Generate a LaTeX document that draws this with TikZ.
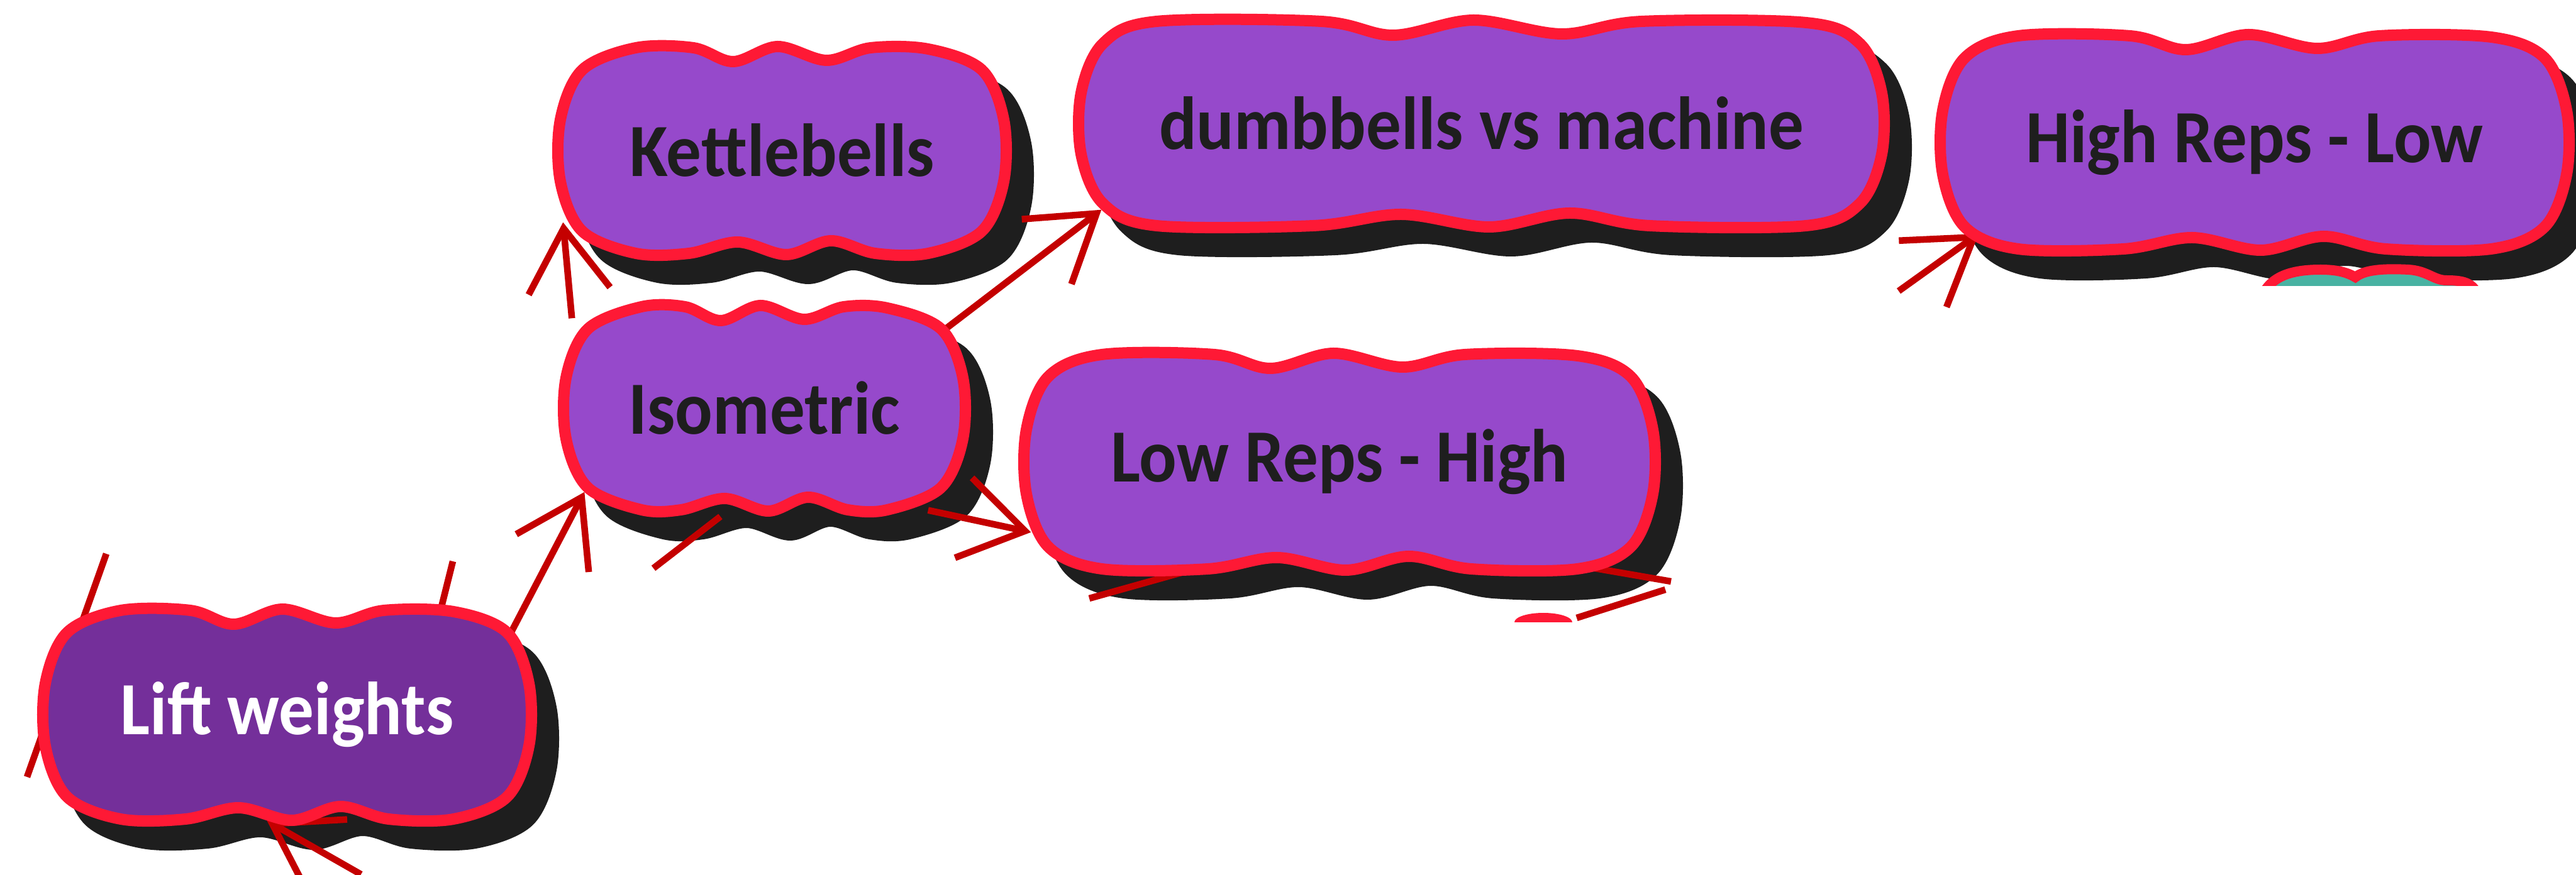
\documentclass[tikz,border=0pt]{standalone}
\usepackage{fontspec}
\setmainfont{Carlito}[FakeStretch=0.93]
\usetikzlibrary{arrows.meta}

\definecolor{blobfill}{HTML}{9649CB}
\definecolor{liftfill}{HTML}{742F9A}
\definecolor{blobred}{HTML}{FE1935}
\definecolor{shade}{HTML}{1E1E1E}
\definecolor{linkred}{HTML}{C40000}
\definecolor{ink}{HTML}{1E1E1E}
\definecolor{tealfill}{HTML}{48B2A2}

\pgfdeclarelayer{shadows}
\pgfdeclarelayer{links}
\pgfdeclarelayer{blobs}
\pgfsetlayers{shadows,links,blobs,main}

\newcommand{\blobpath}[2]{plot[smooth cycle, tension=0.55] coordinates {
(-#1,{-0.3*#2}) (-#1,{0.3*#2}) ({-#1+0.35},{#2-0.35}) ({-#1+1.2},#2)
({-0.4*#1},#2) ({-0.22*#1},{#2-0.22}) ({-0.02*#1},{#2+0.02}) ({0.2*#1},{#2-0.2}) ({0.4*#1},#2)
({#1-1.2},{#2-0.02}) ({#1-0.35},{#2-0.35}) (#1,{0.3*#2}) (#1,{-0.3*#2}) ({#1-0.35},{-#2+0.35})
({#1-1.2},-#2) ({0.42*#1},-#2) ({0.22*#1},{-#2+0.2}) ({0.02*#1},{-#2-0.02}) ({-0.2*#1},{-#2+0.18})
({-0.42*#1},-#2) ({-#1+1.2},-#2) ({-#1+0.35},{-#2+0.35})}}

\begin{document}
\begin{tikzpicture}[
idea/.style={font=\bfseries\fontsize{34}{40}\selectfont, text=ink, inner sep=0pt},
link/.style={draw=linkred, line width=3pt, -{Straight Barb[length=10mm,width=13mm]}},
stray/.style={draw=linkred, line width=3pt}]
\useasboundingbox (0,0) rectangle (40.96,13.91);

\node[idea, text=white, minimum width=7.69cm, minimum height=3.32cm] (lift) at (4.565,2.54) {Lift weights};
\node[idea, minimum width=6.31cm, minimum height=3.23cm] (iso) at (12.155,7.415) {Isometric};
\node[idea, minimum width=7.05cm, minimum height=3.27cm] (kb) at (12.435,11.515) {Kettlebells};
\node[idea, minimum width=12.73cm, minimum height=3.25cm] (db) at (23.555,11.945) {dumbbells vs machine};
\node[idea, minimum width=9.96cm, minimum height=3.41cm] (low) at (21.30,6.565) {Low Reps - High};
\node[idea, minimum width=9.92cm, minimum height=3.39cm] (high) at (35.85,11.645) {High Reps - Low};

\foreach \n/\a/\b/\c in {lift/3.845/1.66/liftfill, iso/3.155/1.615/blobfill, kb/3.525/1.635/blobfill,
  db/6.365/1.625/blobfill, low/4.98/1.705/blobfill, high/4.96/1.695/blobfill} {
  \begin{pgfonlayer}{shadows}
  \filldraw[fill=shade, draw=shade, line width=0.18cm, shift={(\n.center)}, shift={(0.35,-0.38)}] \blobpath{\a}{\b};
  \end{pgfonlayer}
  \begin{pgfonlayer}{blobs}
  \filldraw[fill=\c, draw=blobred, line width=0.18cm, shift={(\n.center)}] \blobpath{\a}{\b};
  \end{pgfonlayer}
}

\begin{pgfonlayer}{blobs}
\begin{scope}
\clip (35.5,9.36) rectangle (40,9.9);
\filldraw[fill=tealfill, draw=blobred, line width=0.16cm] (35.93,9.1) .. controls (36.05,9.5) and (36.4,9.62) .. (36.9,9.62)
  .. controls (37.2,9.62) and (37.35,9.56) .. (37.45,9.5) .. controls (37.6,9.62) and (37.9,9.64) .. (38.3,9.62)
  .. controls (38.6,9.6) and (38.7,9.45) .. (38.9,9.45) .. controls (39.2,9.45) and (39.38,9.4) .. (39.42,9.1) -- cycle;
\end{scope}
\end{pgfonlayer}

\coordinate (highfrom) at (30.19,9.28);
\coordinate (liftfrom) at (5.74,0);
\coordinate (s1) at (1.69,5.10);
\coordinate (s2) at (0.43,1.55);
\coordinate (s3) at (7.20,4.98);
\coordinate (s4) at (10.39,4.87);
\coordinate (s5) at (17.32,4.39);
\coordinate (s6) at (26.57,4.66);
\coordinate (s7) at (26.48,4.53);
\coordinate (s8) at (25.07,4.08);

\begin{pgfonlayer}{links}
\draw[link] ([shift={(-0.37,-0.51)}]lift.north east) -- ([shift={(0.30,0.29)}]iso.south west);
\draw[link] ([shift={(0.1,-0.19)}]iso.north west) -- ([shift={(0.05,0.5)}]kb.south west);
\draw[link] ([shift={(-0.44,-0.48)}]iso.north east) -- ([shift={(0.33,0.26)}]db.south west);
\draw[link] ([shift={(-0.56,0)}]iso.south east) -- ([shift={(0.08,0.59)}]low.south west);
\draw[link] (highfrom) -- ([shift={(0.58,0.25)}]high.south west);
\draw[link] (liftfrom) -- ([shift={(-0.32,-0.02)}]lift.south);
\draw[stray] (s1) -- (s2);
\draw[stray] (s3) -- ([xshift=-1.41cm]lift.north east);
\draw[stray] ([shift={(-0.7,-0.1)}]iso.south) -- (s4);
\draw[stray] ([shift={(-2.15,0.05)}]low.south) -- (s5);
\draw[stray] ([shift={(-1.12,0.05)}]low.south east) -- (s6);
\draw[stray] (s7) -- (s8);
\end{pgfonlayer}
\fill[blobred] (24.08,4.01) arc[start angle=180, end angle=0, x radius=0.46, y radius=0.15];
\end{tikzpicture}
\end{document}
